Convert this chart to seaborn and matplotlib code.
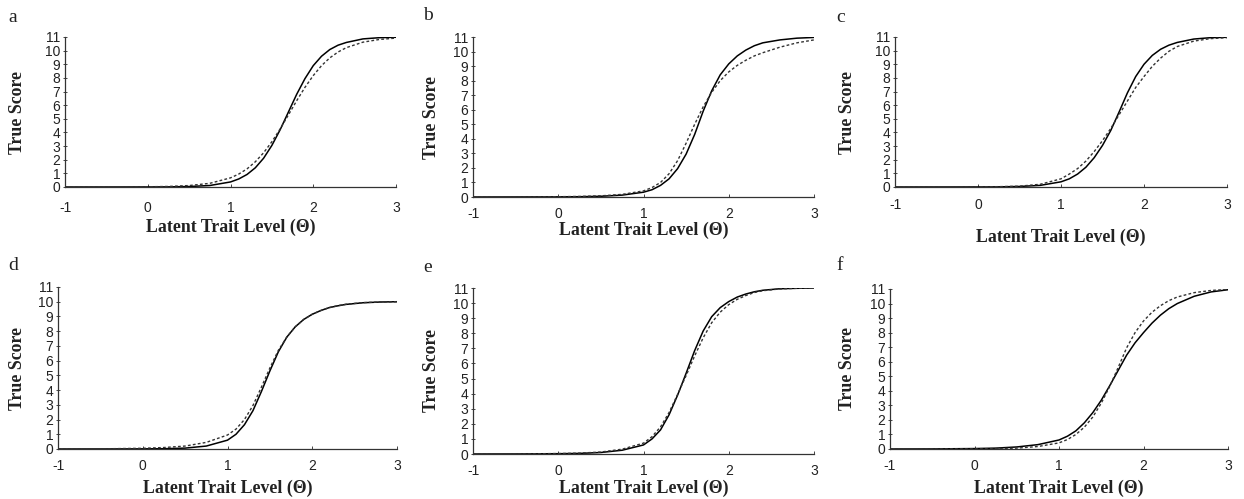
import numpy as np
import pandas as pd
import seaborn as sns
import matplotlib
matplotlib.use('Agg')
import matplotlib.pyplot as plt

theta = [-1.0, -0.5, 0.0, 0.25, 0.5, 0.75, 1.0, 1.1, 1.2, 1.3, 1.4, 1.5,
         1.6, 1.7, 1.8, 1.9, 2.0, 2.1, 2.2, 2.3, 2.4, 2.6, 2.8, 3.0]

a_solid = [0, 0.001, 0.005, 0.01, 0.035, 0.11, 0.37, 0.59, 0.92, 1.41, 2.11, 3.05,
           4.2, 5.5, 6.8, 7.95, 8.9, 9.59, 10.08, 10.4, 10.6, 10.86, 10.95, 10.98]
a_dash = [0, 0.002, 0.016, 0.041, 0.106, 0.27, 0.67, 0.95, 1.33, 1.85, 2.51, 3.32,
          4.26, 5.29, 6.33, 7.31, 8.17, 8.9, 9.47, 9.9, 10.22, 10.62, 10.82, 10.92]

b_solid = [0, 0.003, 0.01, 0.02, 0.05, 0.13, 0.33, 0.5, 0.8, 1.25, 1.95, 2.95,
           4.3, 5.9, 7.3, 8.4, 9.15, 9.7, 10.1, 10.4, 10.6, 10.8, 10.92, 10.97]
b_dash = [0, 0.005, 0.02, 0.04, 0.08, 0.18, 0.42, 0.65, 1.0, 1.6, 2.5, 3.7,
          5.0, 6.2, 7.2, 8.0, 8.6, 9.05, 9.4, 9.7, 9.92, 10.3, 10.6, 10.8]

c_solid = [0, 0.001, 0.005, 0.01, 0.04, 0.12, 0.38, 0.6, 0.95, 1.45, 2.15, 3.05,
           4.15, 5.5, 6.9, 8.1, 9.0, 9.65, 10.1, 10.4, 10.6, 10.85, 10.95, 10.98]
c_dash = [0, 0.002, 0.01, 0.025, 0.06, 0.2, 0.6, 0.95, 1.35, 1.9, 2.6, 3.4,
          4.3, 5.3, 6.3, 7.3, 8.1, 8.85, 9.45, 9.95, 10.3, 10.7, 10.88, 10.95]

d_solid = [0, 0.002, 0.01, 0.02, 0.06, 0.2, 0.6, 1.0, 1.65, 2.6, 3.9, 5.3,
           6.6, 7.6, 8.3, 8.8, 9.15, 9.4, 9.6, 9.72, 9.82, 9.93, 9.98, 10.0]
d_dash = [0, 0.01, 0.05, 0.1, 0.2, 0.45, 0.95, 1.35, 2.0, 2.95, 4.2, 5.5,
          6.7, 7.6, 8.3, 8.8, 9.15, 9.4, 9.6, 9.73, 9.83, 9.94, 9.98, 10.0]

e_solid = [0, 0.003, 0.02, 0.04, 0.1, 0.25, 0.6, 1.0, 1.6, 2.6, 3.9, 5.35,
           6.85, 8.15, 9.1, 9.7, 10.1, 10.4, 10.6, 10.75, 10.85, 10.95, 10.98, 11.0]
e_dash = [0, 0.005, 0.03, 0.06, 0.13, 0.32, 0.72, 1.15, 1.8, 2.75, 3.95, 5.2,
          6.5, 7.7, 8.7, 9.4, 9.9, 10.25, 10.5, 10.7, 10.82, 10.94, 10.98, 11.0]

f_solid = [0, 0.005, 0.03, 0.06, 0.14, 0.3, 0.62, 0.88, 1.25, 1.8, 2.5, 3.35,
           4.35, 5.4, 6.45, 7.3, 8.0, 8.65, 9.2, 9.65, 10.0, 10.5, 10.8, 10.95]
f_dash = [0, 0.002, 0.01, 0.025, 0.06, 0.17, 0.42, 0.65, 1.0, 1.5, 2.2, 3.15,
          4.3, 5.6, 6.95, 8.0, 8.8, 9.4, 9.85, 10.2, 10.45, 10.75, 10.9, 10.97]

panel_letters = ['a', 'b', 'c', 'd', 'e', 'f']
x_ticks = [-1, 0, 1, 2, 3]
y_ticks = list(range(0, 12))

panels = [(a_solid, a_dash), (b_solid, b_dash), (c_solid, c_dash),
          (d_solid, d_dash), (e_solid, e_dash), (f_solid, f_dash)]

# axes boxes in pixels: left, right, top, bottom
boxes = [(65, 396, 37, 187), (473, 814, 37, 197), (895, 1227, 37, 187),
         (58, 397, 287, 449), (473, 814, 288, 454), (890, 1228, 289, 449)]
letter_pos = [(8, 17), (423, 16), (836, 18), (8, 266), (423, 268), (836, 266)]
ylabel_x = [18, 432, 848, 17, 432, 848]
xlabel_y = [227, 230, 237, 488, 488, 488]
xtick_pad = [10, 7, 8, 7, 7, 7]

sns.set_style('ticks')
W, H = 1244, 499
fig = plt.figure(figsize=(W / 100, H / 100), dpi=100)

serif = ['Liberation Serif', 'DejaVu Serif']
sans = ['Liberation Sans', 'DejaVu Sans']

for (solid, dash), (l, r, t, b), letter, (lx, ly), yx, xy, xp in zip(
        panels, boxes, panel_letters, letter_pos, ylabel_x, xlabel_y, xtick_pad):
    ax = fig.add_axes([l / W, 1 - b / H, (r - l) / W, (b - t) / H])
    df = pd.DataFrame({'theta': theta, 'solid': solid, 'dash': dash})
    sns.lineplot(data=df, x='theta', y='solid', ax=ax, color='black', lw=1.1)
    sns.lineplot(data=df, x='theta', y='dash', ax=ax, color='#333333', lw=1.0,
                 dashes=False, linestyle=(0, (2.0, 1.6)))
    ax.set_xlim(-1, 3)
    ax.set_ylim(0, 11)
    ax.set_xticks(x_ticks)
    ax.set_xticklabels(['-1', '0', '1', '2', '3'], family=sans, fontsize=10, color='#222222')
    ax.set_yticks(y_ticks)
    ax.set_yticklabels([str(v) for v in y_ticks], family=sans, fontsize=10, color='#222222')
    ax.tick_params(axis='x', direction='in', length=2.5, width=0.7, pad=xp, color='#444444')
    ax.tick_params(axis='y', direction='inout', length=3, width=0.7, pad=2, color='#444444')
    ax.set_xlabel('Latent Trait Level (\u0398)', family=serif, fontweight='bold',
                  fontsize=12.8, color='#222222')
    ax.set_ylabel('True Score', family=serif, fontweight='bold', fontsize=12.8, color='#222222')
    ax.yaxis.set_label_coords((yx - l) / (r - l), 0.5)
    ax.xaxis.set_label_coords(0.5, (b - xy) / (b - t))
    ax.yaxis.label.set_va('center')
    ax.xaxis.label.set_va('center')
    sns.despine(ax=ax)
    for s in ['left', 'bottom']:
        ax.spines[s].set_linewidth(0.9)
        ax.spines[s].set_color('#333333')
    fig.text(lx / W, 1 - ly / H, letter, family=serif, fontsize=14,
             ha='left', va='center', color='#222222')

fig.savefig('out.png', dpi=100)
